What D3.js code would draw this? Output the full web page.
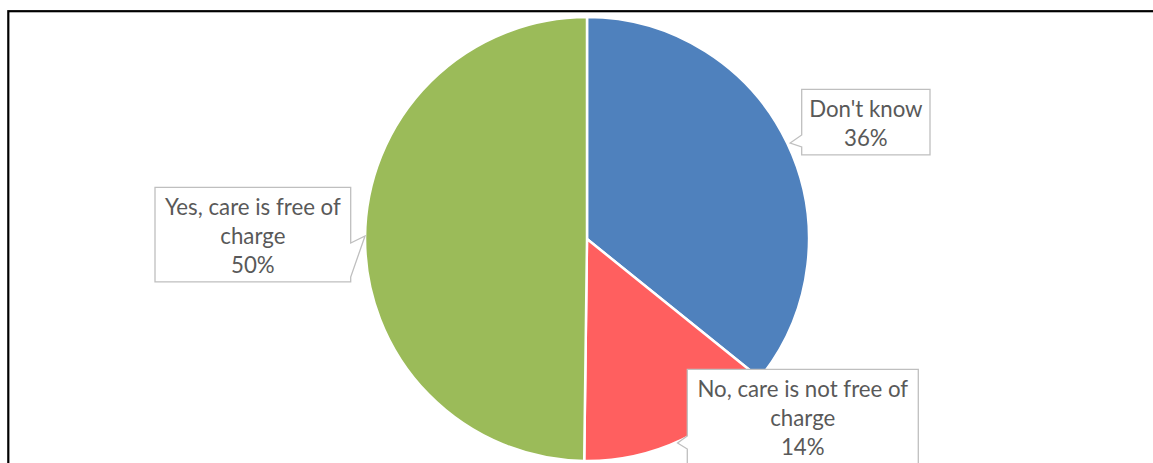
<!DOCTYPE html>
<html>
<head>
<meta charset="utf-8">
<script src="https://cdn.jsdelivr.net/npm/d3@7"></script>
<style>
  html, body { margin: 0; padding: 0; background: #fff; overflow: hidden; }
  svg { display: block; }
</style>
</head>
<body>
<svg id="chart" width="1153" height="463"></svg>
<script>
// ---- data ----
const categories = ["Don't know", "No, care is not free of charge", "Yes, care is free of charge"];
const values = [35.8, 14.4, 49.8];
const percentLabels = ["36%", "14%", "50%"];
const labelLines = [["Don't know"], ["No, care is not free of", "charge"], ["Yes, care is free of", "charge"]];
const colors = ["#4F81BD", "#FF5F5F", "#9BBB59"];

// ---- layout ----
const W = 1153, H = 463;
const cx = 587, cy = 239, R = 222;
const lineH = 29;
const fontFamily = "Lato, 'Open Sans', sans-serif";
// callout boxes: x0,x1, first baseline, pointer side & geometry
const callouts = [
  { x0: 801.7, x1: 930, base: 117.3, side: "left",  pTop: 135, pBot: 147, tipY: 143 },
  { x0: 687.3, x1: 918.3, base: 397.3, side: "left", pTop: 436, pBot: 449, tipY: 443 },
  { x0: 155, x1: 350.7, base: 215.3, side: "right", pTop: 243, pBot: 277, tipY: 236 }
];

const svg = d3.select("#chart");

// frame
svg.append("rect")
  .attr("x", 8.3).attr("y", 11.2)
  .attr("width", W + 20).attr("height", H + 20)
  .attr("fill", "none").attr("stroke", "#000").attr("stroke-width", 2.2);

const pie = d3.pie().sort(null).value(d => d);
const arcs = pie(values);
const arc = d3.arc().innerRadius(0).outerRadius(R);

const g = svg.append("g").attr("transform", `translate(${cx},${cy})`);
g.selectAll("path.slice").data(arcs).join("path")
  .attr("class", "slice")
  .attr("d", arc)
  .attr("fill", (d, i) => colors[i])
  .attr("stroke", "#fff")
  .attr("stroke-width", 2.5)
  .attr("stroke-linejoin", "round");

// fit font size to the Calibri-like widths of the reference
const targetWidths = { "Yes, care is free of": 179, "No, care is not free of": 210, "Don't know": 112 };
const probe = svg.append("text").attr("font-family", fontFamily).attr("font-size", 100);
let ratios = [];
for (const [t, w] of Object.entries(targetWidths)) {
  probe.text(t);
  ratios.push(w / probe.node().getComputedTextLength());
}
probe.remove();
const fontSize = 100 * d3.mean(ratios);

// pie edge x at given y for side
function edgeX(y, side) {
  const dy = y - cy;
  const dx = Math.sqrt(Math.max(0, R * R - dy * dy));
  return side === "left" ? cx + dx + 3 : cx - dx;
}

callouts.forEach((c, i) => {
  const lines = labelLines[i].concat([percentLabels[i]]);
  const top = c.base - 28;
  const bot = c.base + (lines.length - 1) * lineH + 8.5;
  const tipX = edgeX(c.tipY, c.side);
  let pts;
  if (c.side === "left") {
    pts = [[c.x0, top], [c.x1, top], [c.x1, bot], [c.x0, bot], [c.x0, c.pBot], [tipX, c.tipY], [c.x0, c.pTop]];
  } else {
    pts = [[c.x0, top], [c.x1, top], [c.x1, c.pTop], [tipX, c.tipY], [c.x1, c.pBot], [c.x1, bot], [c.x0, bot]];
  }
  svg.append("path")
    .attr("d", d3.line()(pts) + "Z")
    .attr("fill", "#fff")
    .attr("stroke", "#BFBFBF")
    .attr("stroke-width", 1.3);
  const t = svg.append("text")
    .attr("font-family", fontFamily)
    .attr("font-size", fontSize)
    .attr("fill", "#595959")
    .attr("text-anchor", "middle");
  lines.forEach((ln, j) => {
    t.append("tspan").attr("x", (c.x0 + c.x1) / 2).attr("y", c.base + j * lineH).text(ln);
  });
});
</script>
</body>
</html>
